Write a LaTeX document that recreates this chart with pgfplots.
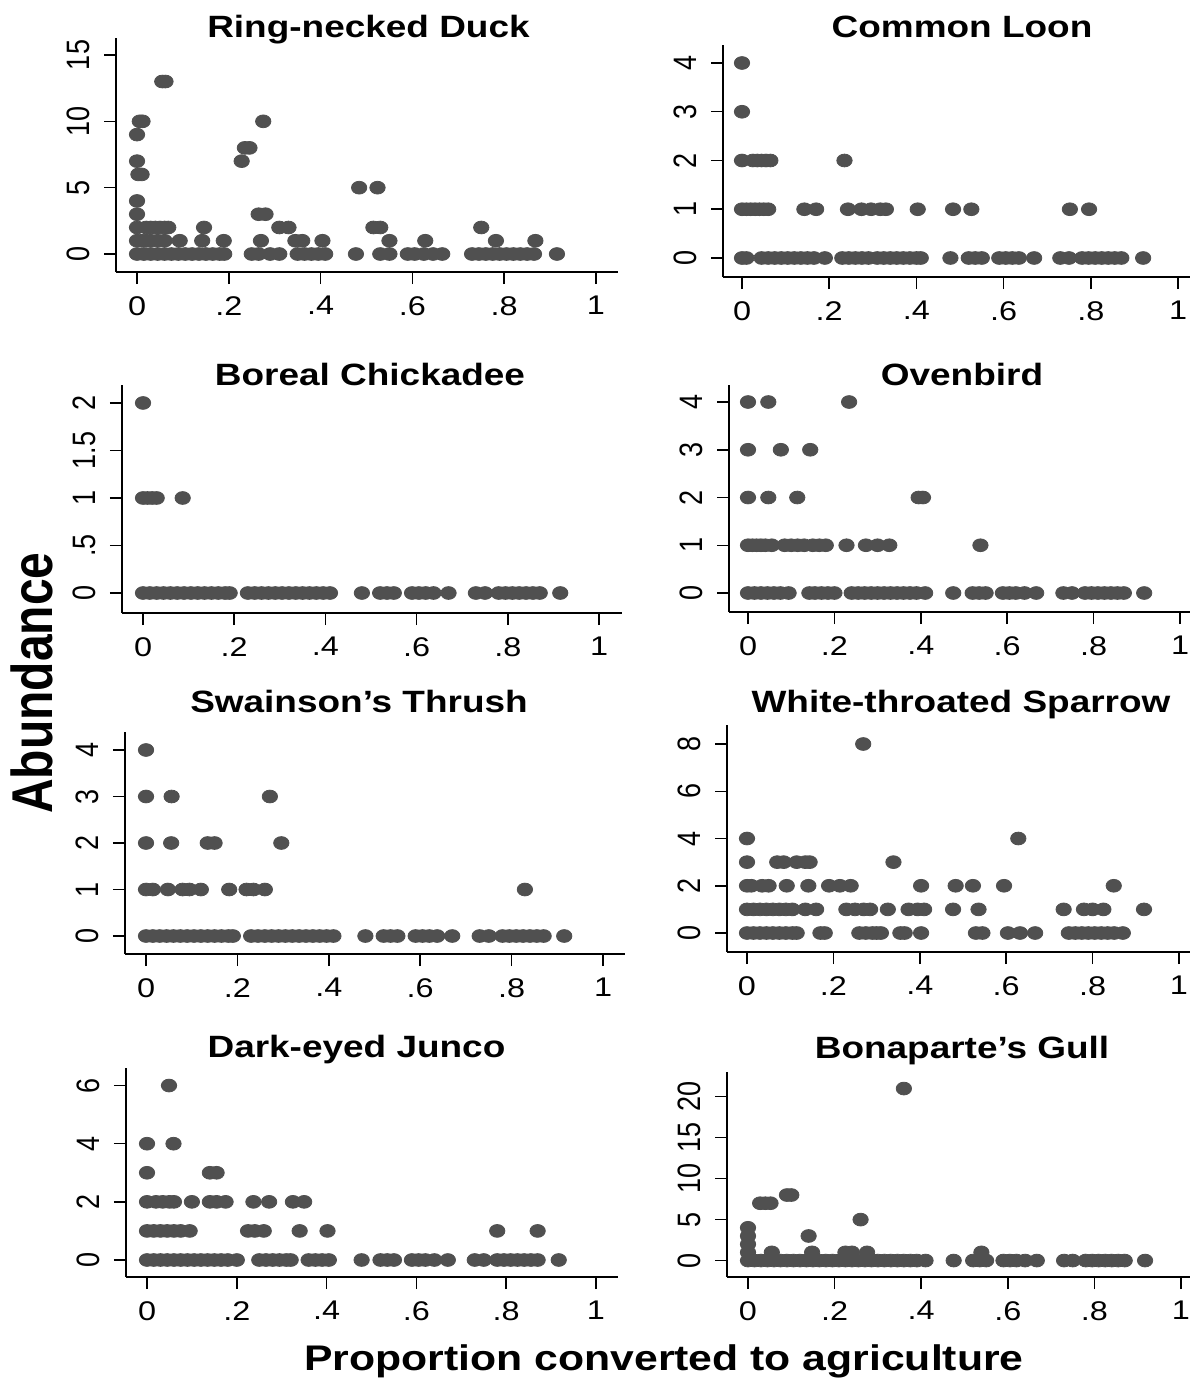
\documentclass[border=0pt]{standalone}
\usepackage{fontspec}
\setmainfont{Liberation Sans}[FakeStretch=1.2]
\newfontfamily\rotfont{Liberation Sans}
\usepackage{pgfplots}
\pgfplotsset{compat=1.18}
\definecolor{dotgray}{RGB}{80,80,80}

\pgfplotsset{
  panel/.style={
    scale only axis,
    anchor=south west,
    axis x line=bottom, axis y line=left,
    axis line style={-, line width=1pt, black},
    tick align=outside,
    major tick length=6pt,
    every tick/.style={black, line width=0.75pt},
    xtick={0,0.2,0.4,0.6,0.8,1},
    xticklabels={0,.2,.4,.6,.8,1},
    xticklabel style={font=\fontsize{13.5}{16}\selectfont, anchor=north, inner sep=0pt, yshift=-6pt},
    yticklabel style={font=\rotfont\fontsize{13.5}{16}\selectfont, xshift=-7pt, xscale=1.2, rotate=90, anchor=south, inner sep=0pt},
    clip=false,
  },
  dots/.style={only marks, color=dotgray, mark=*, mark size=3.2pt,
    mark options={xscale=1.2, draw=dotgray, fill=dotgray, line width=0.4pt}},
}
\tikzset{ttl/.style={font=\bfseries\fontsize{15.4}{18}\selectfont, anchor=base}}

\begin{document}
\begin{tikzpicture}
\useasboundingbox (0pt,0pt) rectangle (596.5pt,-691.5pt);

%%%%%%%%%%%%%%%%%%%%%%%%%%%%%%%%%%%%%%%%%%%%%%%%%%%%%%%%%
% Ring-necked Duck
\begin{axis}[panel, at={(58pt,-136pt)}, width=251pt, height=117pt,
  xmin=-0.0458, xmax=1.048, ymin=-1.356, ymax=16.28,
  ytick={0,5,10,15}, yticklabels={0,5,10,15}]
\addplot[dots] coordinates {
  (0.055,13) (0.062,13)
  (0.006,10) (0.012,10) (0.275,10)
  (0,9)
  (0.235,8) (0.245,8)
  (0,7) (0.228,7)
  (0.003,6) (0.01,6)
  (0.484,5) (0.524,5)
  (0,4)
  (0,3) (0.265,3) (0.28,3)
  (0,2) (0.02,2) (0.03,2) (0.04,2) (0.05,2) (0.06,2) (0.068,2) (0.146,2)
  (0.31,2) (0.33,2) (0.515,2) (0.53,2) (0.75,2)
  (0,1) (0.01,1) (0.02,1) (0.03,1) (0.045,1) (0.06,1) (0.093,1) (0.142,1)
  (0.189,1) (0.27,1) (0.345,1) (0.36,1) (0.404,1) (0.55,1) (0.628,1)
  (0.782,1) (0.868,1)
  (0,0) (0.015,0) (0.03,0) (0.045,0) (0.06,0) (0.075,0) (0.09,0) (0.105,0)
  (0.12,0) (0.135,0) (0.15,0) (0.165,0) (0.18,0) (0.19,0)
  (0.25,0) (0.265,0) (0.29,0) (0.31,0) (0.35,0) (0.365,0) (0.38,0) (0.395,0) (0.41,0)
  (0.477,0) (0.53,0) (0.55,0)
  (0.59,0) (0.605,0) (0.625,0) (0.645,0) (0.665,0)
  (0.73,0) (0.745,0) (0.76,0) (0.775,0) (0.79,0) (0.805,0) (0.82,0) (0.835,0)
  (0.85,0) (0.865,0) (0.915,0)
};
\end{axis}

%%%%%%%%%%%%%%%%%%%%%%%%%%%%%%%%%%%%%%%%%%%%%%%%%%%%%%%%%
% Common Loon
\begin{axis}[panel, at={(361.5pt,-138.5pt)}, width=233.5pt, height=116pt,
  xmin=-0.0436, xmax=1.0275, ymin=-0.39, ymax=4.369,
  ytick={0,1,2,3,4}, yticklabels={0,1,2,3,4}]
\addplot[dots] coordinates {
  (0,4) (0,3)
  (0,2) (0.025,2) (0.035,2) (0.045,2) (0.055,2) (0.065,2) (0.235,2)
  (0,1) (0.01,1) (0.02,1) (0.03,1) (0.04,1) (0.05,1) (0.06,1) (0.143,1)
  (0.17,1) (0.243,1) (0.274,1) (0.296,1) (0.317,1) (0.33,1) (0.403,1)
  (0.484,1) (0.526,1) (0.752,1) (0.796,1)
  (0,0) (0.01,0) (0.045,0) (0.06,0) (0.075,0) (0.09,0) (0.105,0) (0.12,0)
  (0.135,0) (0.15,0) (0.165,0) (0.19,0) (0.23,0) (0.245,0) (0.26,0) (0.275,0)
  (0.29,0) (0.31,0) (0.325,0) (0.34,0) (0.355,0) (0.37,0) (0.385,0) (0.4,0)
  (0.41,0) (0.478,0) (0.52,0) (0.535,0) (0.55,0)
  (0.59,0) (0.605,0) (0.62,0) (0.635,0) (0.67,0) (0.73,0) (0.75,0)
  (0.78,0) (0.795,0) (0.81,0) (0.825,0) (0.84,0) (0.855,0) (0.87,0) (0.92,0)
};
\end{axis}

%%%%%%%%%%%%%%%%%%%%%%%%%%%%%%%%%%%%%%%%%%%%%%%%%%%%%%%%%
% Boreal Chickadee
\begin{axis}[panel, at={(61pt,-306.5pt)}, width=250pt, height=114pt,
  xmin=-0.0461, xmax=1.0504, ymin=-0.2105, ymax=2.189,
  ytick={0,0.5,1,1.5,2}, yticklabels={0,.5,1,1.5,2}]
\addplot[dots] coordinates {
  (0,2)
  (0,1) (0.01,1) (0.02,1) (0.03,1) (0.087,1)
  (0,0) (0.015,0) (0.03,0) (0.045,0) (0.06,0) (0.075,0) (0.09,0) (0.105,0)
  (0.12,0) (0.135,0) (0.15,0) (0.165,0) (0.18,0) (0.19,0)
  (0.23,0) (0.245,0) (0.26,0) (0.275,0) (0.29,0) (0.305,0) (0.32,0) (0.335,0)
  (0.35,0) (0.365,0) (0.38,0) (0.395,0) (0.41,0)
  (0.48,0) (0.52,0) (0.535,0) (0.55,0) (0.59,0) (0.605,0) (0.62,0) (0.637,0)
  (0.67,0) (0.73,0) (0.75,0) (0.78,0) (0.795,0) (0.81,0) (0.825,0) (0.84,0)
  (0.855,0) (0.87,0) (0.915,0)
};
\end{axis}

%%%%%%%%%%%%%%%%%%%%%%%%%%%%%%%%%%%%%%%%%%%%%%%%%%%%%%%%%
% Ovenbird
\begin{axis}[panel, at={(364.5pt,-306pt)}, width=230.5pt, height=113.5pt,
  xmin=-0.044, xmax=1.0231, ymin=-0.398, ymax=4.356,
  ytick={0,1,2,3,4}, yticklabels={0,1,2,3,4}]
\addplot[dots] coordinates {
  (0,4) (0.047,4) (0.234,4)
  (0,3) (0.076,3) (0.144,3)
  (0,2) (0.047,2) (0.114,2) (0.395,2) (0.405,2)
  (0,1) (0.01,1) (0.02,1) (0.03,1) (0.04,1) (0.055,1)
  (0.085,1) (0.1,1) (0.115,1) (0.13,1) (0.15,1) (0.165,1) (0.18,1)
  (0.228,1) (0.273,1) (0.3,1) (0.327,1) (0.538,1)
  (0,0) (0.015,0) (0.03,0) (0.045,0) (0.06,0) (0.075,0) (0.094,0)
  (0.142,0) (0.155,0) (0.17,0) (0.185,0) (0.2,0)
  (0.24,0) (0.255,0) (0.27,0) (0.285,0) (0.3,0) (0.315,0) (0.33,0) (0.345,0)
  (0.36,0) (0.375,0) (0.39,0) (0.41,0)
  (0.475,0) (0.52,0) (0.535,0) (0.55,0) (0.59,0) (0.605,0) (0.62,0) (0.64,0)
  (0.667,0) (0.73,0) (0.75,0) (0.78,0) (0.795,0) (0.81,0) (0.825,0) (0.84,0)
  (0.855,0) (0.87,0) (0.917,0)
};
\end{axis}

%%%%%%%%%%%%%%%%%%%%%%%%%%%%%%%%%%%%%%%%%%%%%%%%%%%%%%%%%
% Swainson's Thrush
\begin{axis}[panel, at={(62.5pt,-477pt)}, width=250pt, height=111pt,
  xmin=-0.046, xmax=1.048, ymin=-0.387, ymax=4.387,
  ytick={0,1,2,3,4}, yticklabels={0,1,2,3,4}]
\addplot[dots] coordinates {
  (0,4)
  (0,3) (0.056,3) (0.271,3)
  (0,2) (0.055,2) (0.135,2) (0.15,2) (0.296,2)
  (0,1) (0.015,1) (0.048,1) (0.08,1) (0.095,1) (0.12,1) (0.182,1)
  (0.22,1) (0.235,1) (0.26,1) (0.829,1)
  (0,0) (0.015,0) (0.03,0) (0.045,0) (0.06,0) (0.075,0) (0.09,0) (0.105,0)
  (0.12,0) (0.135,0) (0.15,0) (0.165,0) (0.18,0) (0.19,0)
  (0.23,0) (0.245,0) (0.26,0) (0.275,0) (0.29,0) (0.305,0) (0.32,0) (0.335,0)
  (0.35,0) (0.365,0) (0.38,0) (0.395,0) (0.41,0)
  (0.48,0) (0.52,0) (0.535,0) (0.55,0) (0.59,0) (0.605,0) (0.62,0) (0.637,0)
  (0.67,0) (0.73,0) (0.75,0) (0.78,0) (0.795,0) (0.81,0) (0.825,0) (0.84,0)
  (0.855,0) (0.87,0) (0.915,0)
};
\end{axis}

%%%%%%%%%%%%%%%%%%%%%%%%%%%%%%%%%%%%%%%%%%%%%%%%%%%%%%%%%
% White-throated Sparrow
\begin{axis}[panel, at={(363.5pt,-476pt)}, width=231.5pt, height=113.5pt,
  xmin=-0.0463, xmax=1.0255, ymin=-0.804, ymax=8.804,
  ytick={0,2,4,6,8}, yticklabels={0,2,4,6,8}]
\addplot[dots] coordinates {
  (0.269,8)
  (0,4) (0.628,4)
  (0,3) (0.07,3) (0.085,3) (0.115,3) (0.135,3) (0.145,3) (0.339,3)
  (0,2) (0.01,2) (0.035,2) (0.05,2) (0.092,2) (0.142,2) (0.19,2) (0.215,2)
  (0.24,2) (0.403,2) (0.483,2) (0.523,2) (0.595,2) (0.849,2)
  (0,1) (0.015,1) (0.03,1) (0.045,1) (0.06,1) (0.075,1) (0.09,1) (0.105,1)
  (0.135,1) (0.16,1) (0.23,1) (0.25,1) (0.27,1) (0.285,1) (0.326,1) (0.374,1)
  (0.395,1) (0.41,1) (0.477,1) (0.536,1) (0.733,1) (0.78,1) (0.8,1) (0.825,1)
  (0.919,1)
  (0,0) (0.015,0) (0.03,0) (0.045,0) (0.06,0) (0.075,0) (0.09,0) (0.105,0)
  (0.115,0) (0.17,0) (0.18,0)
  (0.26,0) (0.275,0) (0.29,0) (0.3,0) (0.31,0) (0.355,0) (0.365,0) (0.403,0)
  (0.53,0) (0.545,0) (0.604,0) (0.632,0) (0.667,0)
  (0.745,0) (0.76,0) (0.775,0) (0.79,0) (0.805,0) (0.82,0) (0.835,0) (0.85,0)
  (0.87,0)
};
\end{axis}

%%%%%%%%%%%%%%%%%%%%%%%%%%%%%%%%%%%%%%%%%%%%%%%%%%%%%%%%%
% Dark-eyed Junco
\begin{axis}[panel, at={(63pt,-638.5pt)}, width=246pt, height=104.5pt,
  xmin=-0.0468, xmax=1.049, ymin=-0.585, ymax=6.603,
  ytick={0,2,4,6}, yticklabels={0,2,4,6}]
\addplot[dots] coordinates {
  (0.049,6)
  (0,4) (0.059,4)
  (0,3) (0.14,3) (0.155,3)
  (0,2) (0.02,2) (0.035,2) (0.05,2) (0.06,2) (0.1,2) (0.14,2) (0.155,2)
  (0.175,2) (0.237,2) (0.272,2) (0.325,2) (0.35,2)
  (0,1) (0.015,1) (0.03,1) (0.045,1) (0.06,1) (0.075,1) (0.095,1)
  (0.225,1) (0.24,1) (0.26,1) (0.34,1) (0.402,1) (0.78,1) (0.87,1)
  (0,0) (0.015,0) (0.03,0) (0.045,0) (0.06,0) (0.075,0) (0.09,0) (0.105,0)
  (0.12,0) (0.135,0) (0.15,0) (0.165,0) (0.18,0) (0.2,0)
  (0.25,0) (0.265,0) (0.28,0) (0.295,0) (0.31,0) (0.32,0)
  (0.36,0) (0.375,0) (0.39,0) (0.405,0)
  (0.478,0) (0.52,0) (0.535,0) (0.55,0) (0.59,0) (0.605,0) (0.62,0) (0.64,0)
  (0.67,0) (0.73,0) (0.75,0) (0.78,0) (0.795,0) (0.81,0) (0.825,0) (0.84,0)
  (0.855,0) (0.87,0) (0.917,0)
};
\end{axis}

%%%%%%%%%%%%%%%%%%%%%%%%%%%%%%%%%%%%%%%%%%%%%%%%%%%%%%%%%
% Bonaparte's Gull
\begin{axis}[panel, at={(363.5pt,-638.5pt)}, width=231.5pt, height=102.5pt,
  xmin=-0.0485, xmax=1.0208, ymin=-2.01, ymax=23.02,
  ytick={0,5,10,15,20}, yticklabels={0,5,10,15,20}]
\addplot[dots] coordinates {
  (0.36,21)
  (0.09,8) (0.1,8)
  (0.028,7) (0.04,7) (0.052,7)
  (0.26,5)
  (0,4) (0,3) (0.14,3) (0,2)
  (0,1) (0.055,1) (0.148,1) (0.225,1) (0.24,1) (0.275,1) (0.539,1)
  (0,0) (0.015,0) (0.03,0) (0.045,0) (0.06,0) (0.075,0) (0.09,0) (0.105,0)
  (0.12,0) (0.135,0) (0.15,0) (0.165,0) (0.18,0) (0.195,0) (0.21,0) (0.225,0)
  (0.24,0) (0.255,0) (0.27,0) (0.285,0) (0.3,0) (0.315,0) (0.33,0) (0.345,0)
  (0.36,0) (0.375,0) (0.39,0) (0.41,0)
  (0.475,0) (0.52,0) (0.535,0) (0.55,0) (0.59,0) (0.605,0) (0.62,0) (0.64,0)
  (0.667,0) (0.73,0) (0.75,0) (0.78,0) (0.795,0) (0.81,0) (0.825,0) (0.84,0)
  (0.855,0) (0.87,0) (0.917,0)
};
\end{axis}

% titles and shared labels
\node[ttl] at (184.25pt,-18.5pt) {Ring-necked Duck};
\node[ttl] at (481pt,-18.5pt) {Common Loon};
\node[ttl] at (185pt,-192.5pt) {Boreal Chickadee};
\node[ttl] at (481pt,-192.5pt) {Ovenbird};
\node[ttl] at (179.5pt,-356pt) {Swainson’s Thrush};
\node[ttl] at (480.5pt,-356pt) {White-throated Sparrow};
\node[ttl] at (178.25pt,-528.5pt) {Dark-eyed Junco};
\node[ttl] at (481pt,-529pt) {Bonaparte’s Gull};

\node[anchor=base, font=\bfseries\fontsize{17.8}{20}\selectfont]
  at (332pt,-685pt) {Proportion converted to agriculture};
\node[xscale=1.2, rotate=90, inner sep=0pt, font=\rotfont\bfseries\fontsize{24}{28}\selectfont]
  at (15.75pt,-341.5pt) {Abundance};
\end{tikzpicture}
\end{document}
